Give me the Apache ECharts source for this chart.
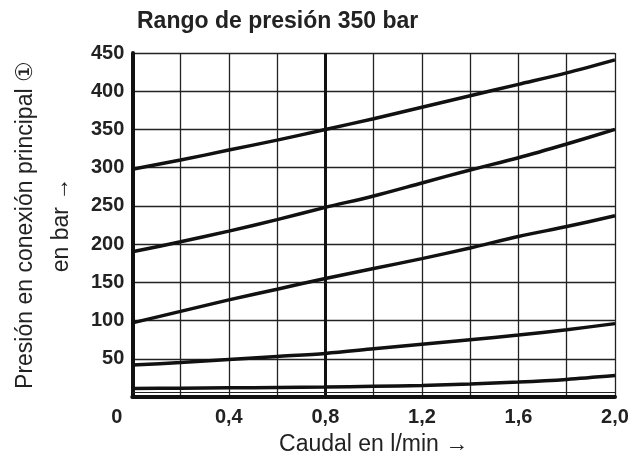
<!DOCTYPE html>
<html>
<head>
<meta charset="utf-8">
<script src="https://cdn.jsdelivr.net/npm/echarts@6/dist/echarts.min.js"></script>
<style>
  html, body { margin: 0; padding: 0; background: #fff; }
  #main { width: 644px; height: 461px; }
</style>
</head>
<body>
<div id="main"></div>
<script>
  // caudal en l/min
  let flow = [0, 0.2, 0.4, 0.6, 0.8, 1.0, 1.2, 1.4, 1.6, 1.8, 2.0];
  // presión en bar, una curva por ajuste
  let p300 = [298, 310, 323, 336, 350, 364, 379, 394, 409, 424, 441];
  let p190 = [190, 203, 217, 232, 248, 263, 280, 297, 313, 331, 350];
  let p97 = [97, 112, 127, 141, 155, 168, 181, 195, 210, 223, 237];
  let p42 = [42, 45, 49, 53, 57, 63, 69, 75, 81, 88, 96];
  let p11 = [11, 11.5, 12, 12.5, 13, 14, 15, 17, 19.5, 23, 28];
  let curves = [p300, p190, p97, p42, p11];

  let plain = "'Liberation Sans', Arial, sans-serif";

  let myChart = echarts.init(document.getElementById('main'));

  let series = curves.map((ys, i) => {
    let s = {
      type: 'line',
      smooth: 0.3,
      symbol: 'none',
      silent: true,
      lineStyle: { color: '#111', width: 3.5 },
      data: flow.map((x, j) => [x, ys[j]])
    };
    if (i === 0) {
      s.markLine = {
        symbol: 'none',
        silent: true,
        label: { show: false },
        data: [
          { xAxis: 0.8, lineStyle: { color: '#111', width: 3, type: 'solid' } },
          { yAxis: 6, lineStyle: { color: '#222', width: 1.2, type: 'solid' } }
        ]
      };
    }
    return s;
  });

  let option = {
    animation: false,
    title: {
      text: 'Rango de presión 350 bar',
      left: 132,
      top: 5,
      textStyle: { fontFamily: plain, fontSize: 23, fontWeight: 'bold', color: '#222' }
    },
    grid: { left: 131, right: 29, top: 53, bottom: 59 },
    xAxis: {
      type: 'value',
      min: 0,
      max: 2,
      interval: 0.2,
      name: 'Caudal en l/min →',
      nameLocation: 'middle',
      nameGap: 36,
      nameTextStyle: { fontFamily: plain, fontSize: 23, color: '#222' },
      axisLine: { show: true, onZero: false, lineStyle: { color: '#111', width: 4 } },
      axisTick: { show: false },
      splitLine: { show: true, lineStyle: { color: '#222', width: 1.3 } },
      axisLabel: {
        margin: 10,
        fontFamily: plain,
        fontSize: 20,
        fontWeight: 'bold',
        color: '#222',
        formatter: function (v) {
          let k = Math.round(v * 10);
          if (k === 0) return '{z|0}';
          if (k % 4 !== 0) return '';
          return (k / 10).toFixed(1).replace('.', ',');
        },
        rich: {
          z: { fontFamily: plain, fontSize: 20, fontWeight: 'bold', color: '#222', padding: [0, 31, 0, 0] }
        }
      }
    },
    yAxis: {
      type: 'value',
      min: 0,
      max: 450,
      interval: 50,
      name: 'Presión en conexión principal ①\nen bar →',
      nameLocation: 'middle',
      nameRotate: 90,
      nameGap: 50,
      nameTextStyle: { fontFamily: plain, fontSize: 23, color: '#222', lineHeight: 36, align: 'center' },
      axisLine: { show: true, lineStyle: { color: '#111', width: 4 } },
      axisTick: { show: false },
      splitLine: { show: true, lineStyle: { color: '#222', width: 1.3 } },
      axisLabel: {
        margin: 8,
        fontFamily: plain,
        fontSize: 20,
        fontWeight: 'bold',
        color: '#222',
        formatter: function (v) { return v === 0 ? '' : String(v); }
      }
    },
    series: series
  };

  myChart.setOption(option);
</script>
</body>
</html>
